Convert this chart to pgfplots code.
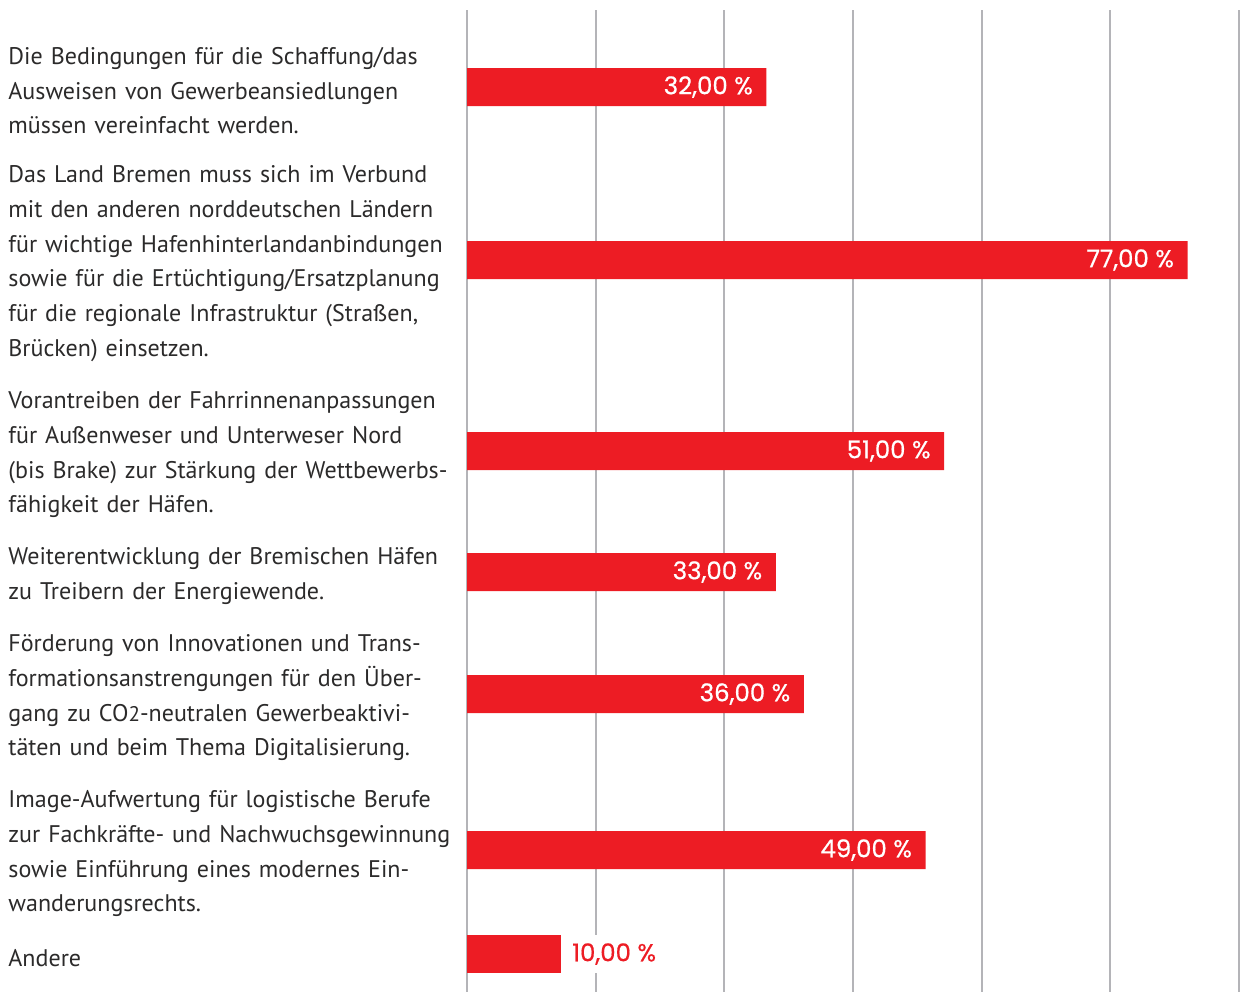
\documentclass[border=0pt]{standalone}
\usepackage{fontspec}
\setmainfont{PT Sans}
\newfontfamily\valfont{Poppins}[FakeBold=0.6]
\usepackage{pgfplots}
\pgfplotsset{compat=1.18}

\definecolor{barred}{HTML}{ED1C24}
\definecolor{gridgray}{HTML}{B4B4B8}
\definecolor{labeltext}{HTML}{2B2A2A}

% 1 px of the reference = 0.36pt
\begin{document}
\begin{tikzpicture}
\begin{axis}[
    scale only axis,
    width=277.92pt,
    height=353.52pt,
    xmin=0, xmax=82.5,
    ymin=10, ymax=992,
    y dir=reverse,
    enlargelimits=false,
    axis line style={draw=none},
    major tick length=0pt,
    xtick={0,13.75,27.5,41.25,55,68.75,82.5},
    xticklabels={},
    xmajorgrids=true,
    grid style={color=gridgray, line width=0.75pt},
    ytick={87,260,451,572,694,850,954},
    yticklabels={
      {Die Bedingungen für die Schaffung/das\\Ausweisen von Gewerbeansiedlungen\\müssen vereinfacht werden.},
      {Das Land Bremen muss sich im Verbund\\mit den anderen norddeutschen Ländern\\für wichtige Hafenhinterlandanbindungen\\sowie für die Ertüchtigung/Ersatzplanung\\für die regionale Infrastruktur (Straßen,\\Brücken) einsetzen.},
      {Vorantreiben der Fahrrinnenanpassungen\\für Außenweser und Unterweser Nord\\(bis Brake) zur Stärkung der Wettbewerbs-\\fähigkeit der Häfen.},
      {Weiterentwicklung der Bremischen Häfen\\zu Treibern der Energiewende.},
      {Förderung von Innovationen und Trans-\\formationsanstrengungen für den Über-\\gang zu CO{\fontsize{7.6}{7.6}\selectfont 2}-neutralen Gewerbeaktivi-\\täten und beim Thema Digitalisierung.},
      {Image-Aufwertung für logistische Berufe\\zur Fachkräfte- und Nachwuchsgewinnung\\sowie Einführung eines modernes Ein-\\wanderungsrechts.},
      {Andere}
    },
    yticklabel style={text width=220pt, align=left, inner sep=0pt,
      xshift=55.12pt, yshift=-1.3pt, text=labeltext,
      font=\fontsize{8.65}{12.53}\selectfont},
    /pgf/number format/.cd, use comma, fixed, fixed zerofill, precision=2,
      assume math mode=true,
]
\addplot[xbar, bar width=38, bar shift=0pt, fill=barred, draw=none,
    nodes near coords={\pgfmathprintnumber{\pgfplotspointmeta}~\%},
    nodes near coords style={anchor=east, inner sep=0pt, xshift=-4.7pt,
      text=white, font=\valfont\fontsize{8.8}{11}\selectfont},
    point meta=x]
  coordinates {(32,87) (77,260) (51,451) (33,572) (36,694) (49,850)};
\addplot[xbar, bar width=38, bar shift=0pt, fill=barred, draw=none,
    nodes near coords={\pgfmathprintnumber{\pgfplotspointmeta}~\%},
    nodes near coords style={anchor=west, inner sep=0pt, xshift=4pt,
      fill=white, minimum height=13.7pt,
      text=barred, font=\valfont\fontsize{8.8}{11}\selectfont},
    point meta=x]
  coordinates {(10,954)};
\end{axis}
\pgfresetboundingbox
\useasboundingbox ([xshift=-168.12pt]current axis.south west)
  rectangle ([xshift=1.44pt,yshift=3.6pt]current axis.north east);
\end{tikzpicture}
\end{document}
